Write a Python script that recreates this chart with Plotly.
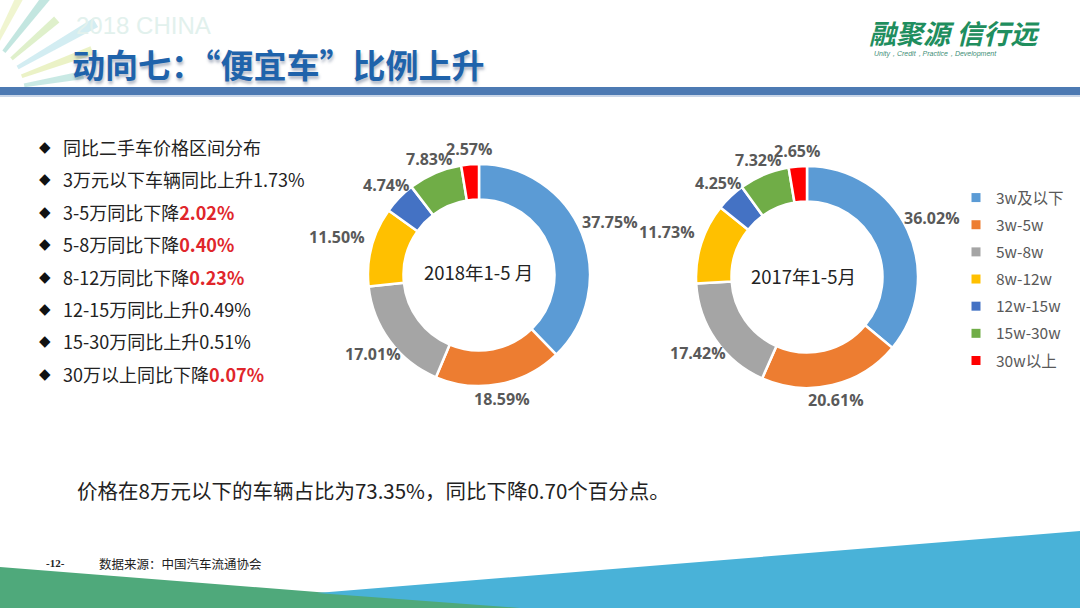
import math
import plotly.graph_objects as go

W, H = 1080, 608

# ---------------- data ----------------
categories = ["3w及以下", "3w-5w", "5w-8w", "8w-12w", "12w-15w", "15w-30w", "30w以上"]
share_2018 = [37.75, 18.59, 17.01, 11.50, 4.74, 7.83, 2.57]
share_2017 = [36.02, 20.61, 17.42, 11.73, 4.25, 7.32, 2.65]
colors = ["#5B9BD5", "#ED7D31", "#A5A5A5", "#FFC000", "#4472C4", "#70AD47", "#FF0000"]
center_2018 = "2018年1-5 月"
center_2017 = "2017年1-5月"

bullet_plain = ["同比二手车价格区间分布", "3万元以下车辆同比上升1.73%", "3-5万同比下降", "5-8万同比下降",
                "8-12万同比下降", "12-15万同比上升0.49%", "15-30万同比上升0.51%", "30万以上同比下降"]
bullet_red = ["", "", "2.02%", "0.40%", "0.23%", "", "", "0.07%"]

title = "动向七：“便宜车”比例上升"
summary = "价格在8万元以下的车辆占比为73.35%，同比下降0.70个百分点。"
footer_page = "-12-"
footer_src = "数据来源：中国汽车流通协会"
logo_cn = "融聚源 信行远"
logo_en = "Unity，Credit，Practice，Development"

CJK = "Noto Sans CJK SC"
NUM = "Open Sans"


def px(x, y):
    return x / W, 1 - y / H


def dom(cx, cy, r):
    return dict(x=[(cx - r) / W, (cx + r) / W], y=[1 - (cy + r) / H, 1 - (cy - r) / H])


fig = go.Figure()

pies = [(share_2018, 479, 275, 111, "2018"), (share_2017, 807, 277, 111, "2017")]
for vals, cx, cy, r, nm in pies:
    fig.add_trace(go.Pie(
        values=vals, labels=categories, sort=False, direction="clockwise", rotation=0, hole=0.68,
        domain=dom(cx, cy, r), name=nm,
        marker=dict(colors=colors, line=dict(color="white", width=2.5)),
        textinfo="none", showlegend=False, hoverinfo="label+value",
    ))

# legend entries (one per category)
for lab, col in zip(categories, colors):
    fig.add_trace(go.Scatter(x=[None], y=[None], mode="markers", name=lab, legendgroup=lab,
                             marker=dict(symbol="square", size=9, color=col), showlegend=True))

shapes = []
annotations = []

# data labels placed just outside each slice (computed from the values)
LBL_W, LBL_H = 58, 18
for vals, cx, cy, r, nm in pies:
    total = sum(vals)
    cum = 0.0
    for v in vals:
        mid = (cum + v / 2) / total * 2 * math.pi
        cum += v
        dx, dy = math.sin(mid), -math.cos(mid)
        tx = LBL_W / 2 / abs(dx) if abs(dx) > 1e-6 else 1e9
        ty = LBL_H / 2 / abs(dy) if abs(dy) > 1e-6 else 1e9
        dist = r + 6 + min(tx, ty)
        x, y = px(cx + dist * dx, cy + dist * dy)
        annotations.append(dict(x=x, y=y, xref="paper", yref="paper", text=f"{v:.2f}%",
                                showarrow=False, xanchor="center", yanchor="middle",
                                font=dict(family=NUM, size=16, color="#595959", weight="bold")))

# top-left ray decoration
cxr, cyr = -30, 95
ray_cols = ["#BFE5DF", "#E8F0BC", "#CBEAF0", "#D9EDC2", "#B8E2DB", "#EDF3C8"]
angles = [10, 20, 30, 41, 52, 63]
for i, a in enumerate(angles):
    a1, a2 = math.radians(a - 2.0), math.radians(a + 2.0)
    r0, r1 = 55, 115 + (i % 3) * 15
    pts = [(cxr + r0 * math.cos(a1), cyr - r0 * math.sin(a1)),
           (cxr + r1 * math.cos(a1), cyr - r1 * math.sin(a1)),
           (cxr + r1 * math.cos(a2), cyr - r1 * math.sin(a2)),
           (cxr + r0 * math.cos(a2), cyr - r0 * math.sin(a2))]
    path = "M " + " L ".join(f"{px(x, y)[0]:.4f},{px(x, y)[1]:.4f}" for x, y in pts) + " Z"
    shapes.append(dict(type="path", xref="paper", yref="paper", path=path,
                       fillcolor=ray_cols[i], line=dict(width=0), opacity=0.85, layer="below"))

# header bar
x0, y0 = px(0, 87)
x1, y1 = px(W, 95)
shapes.append(dict(type="rect", xref="paper", yref="paper", x0=x0, y0=y0, x1=x1, y1=y1,
                   fillcolor="#4D7AB3", line=dict(width=0)))
x0, y0 = px(0, 95)
x1, y1 = px(W, 97)
shapes.append(dict(type="rect", xref="paper", yref="paper", x0=x0, y0=y0, x1=x1, y1=y1,
                   fillcolor="#C9D6E8", line=dict(width=0)))


def poly(points, color):
    path = "M " + " L ".join(f"{px(x, y)[0]:.4f},{px(x, y)[1]:.4f}" for x, y in points) + " Z"
    return dict(type="path", xref="paper", yref="paper", path=path, fillcolor=color,
                line=dict(width=0), layer="below")


# bottom bands
shapes.append(poly([(0, 567), (317, 592), (540, 608), (0, 608)], "#4FA97B"))
shapes.append(poly([(317, 593), (1080, 531), (1080, 608), (520, 608)], "#49B2D8"))

# watermark
x, y = px(74, 26)
annotations.append(dict(x=x, y=y, xref="paper", yref="paper", text="2018 CHINA", showarrow=False,
                        xanchor="left", yanchor="middle",
                        font=dict(family="Liberation Sans", size=24, color="#E2F1ED")))
# title
x, y = px(70, 64)
annotations.append(dict(x=x, y=y, xref="paper", yref="paper", text=title, showarrow=False,
                        xanchor="left", yanchor="middle",
                        font=dict(family=CJK, size=33, color="#1F63AB", weight="bold",
                                  shadow="1px 3px 3px rgba(40,60,100,0.35)")))
# logo
x, y = px(954, 33)
annotations.append(dict(x=x, y=y, xref="paper", yref="paper", text=f"<i>{logo_cn}</i>", showarrow=False,
                        xanchor="center", yanchor="middle",
                        font=dict(family=CJK, size=27, color="#1F8E5E", weight="bold")))
x, y = px(935, 54)
annotations.append(dict(x=x, y=y, xref="paper", yref="paper", text=f"<i>{logo_en}</i>", showarrow=False,
                        xanchor="center", yanchor="middle",
                        font=dict(family="Liberation Sans", size=7, color="#3E8E76")))

# bullet list
line_y0, line_dy = 147, 32.4
for i, (plain, red) in enumerate(zip(bullet_plain, bullet_red)):
    yy = line_y0 + i * line_dy
    x, y = px(45, yy)
    annotations.append(dict(x=x, y=y, xref="paper", yref="paper", text="◆", showarrow=False,
                            xanchor="center", yanchor="middle",
                            font=dict(family="DejaVu Sans", size=15, color="#111111")))
    txt = plain + (f"<b><span style='color:#E0262B'>{red}</span></b>" if red else "")
    x, y = px(61, yy)
    annotations.append(dict(x=x, y=y, xref="paper", yref="paper", text=txt, showarrow=False,
                            xanchor="left", yanchor="middle",
                            font=dict(family=CJK, size=18, color="#222222")))

# centre labels
for (cx, cy), t in [((478, 272), center_2018), ((803, 276), center_2017)]:
    x, y = px(cx, cy)
    annotations.append(dict(x=x, y=y, xref="paper", yref="paper", text=t, showarrow=False,
                            xanchor="center", yanchor="middle",
                            font=dict(family=CJK, size=18.5, color="#222222")))

# summary
x, y = px(75, 490)
annotations.append(dict(x=x, y=y, xref="paper", yref="paper", text=summary, showarrow=False,
                        xanchor="left", yanchor="middle",
                        font=dict(family=CJK, size=20.5, color="#222222")))
# footer
x, y = px(55, 563)
annotations.append(dict(x=x, y=y, xref="paper", yref="paper", text=f"<b>{footer_page}</b>", showarrow=False,
                        xanchor="center", yanchor="middle",
                        font=dict(family="Liberation Serif", size=11, color="#222222")))
x, y = px(97, 563)
annotations.append(dict(x=x, y=y, xref="paper", yref="paper", text=footer_src, showarrow=False,
                        xanchor="left", yanchor="middle",
                        font=dict(family=CJK, size=12.5, color="#222222")))

lx, ly = px(956, 181)
fig.update_layout(
    width=W, height=H, autosize=False,
    margin=dict(l=0, r=0, t=0, b=0),
    paper_bgcolor="white", plot_bgcolor="white",
    xaxis=dict(visible=False, domain=[0.99, 1]), yaxis=dict(visible=False, domain=[0.99, 1]),
    shapes=shapes, annotations=annotations,
    legend=dict(x=lx, y=ly, xanchor="left", yanchor="top", tracegroupgap=4,
                font=dict(family=CJK, size=15.5, color="#595959"),
                bgcolor="rgba(0,0,0,0)", itemclick=False),
    showlegend=True,
)

fig.write_html("out.html", config={"displayModeBar": False},
               post_script="document.body.style.margin='0';document.body.style.overflow='hidden';")
